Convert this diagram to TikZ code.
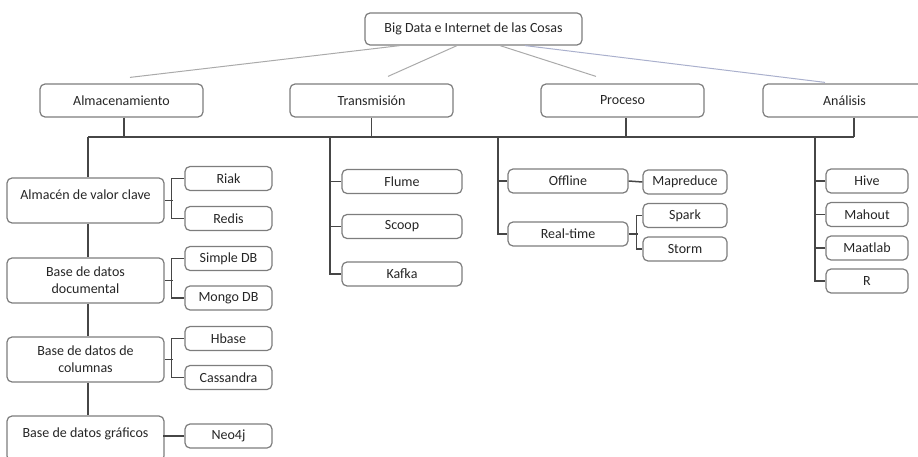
\documentclass[tikz,border=0pt]{standalone}
\usepackage{fontspec}
\setmainfont{Carlito}
\usetikzlibrary{positioning}
\definecolor{boxgray}{RGB}{125,125,125}
\definecolor{linegray}{RGB}{70,70,70}
\definecolor{feedgray}{RGB}{170,170,170}
\definecolor{feedblue}{RGB}{170,176,205}

\begin{document}
\begin{tikzpicture}[x=1pt, y=-1pt,
    every node/.style={
        rectangle, draw=boxgray, fill=white, line width=1.2pt,
        rounded corners=5pt, inner sep=0pt, align=center,
        text=black!85, font=\fontsize{14}{17}\selectfont
    },
    topic/.style={minimum width=217pt, minimum height=32pt},
    area/.style={minimum width=163pt, minimum height=33pt},
    store/.style={minimum width=157pt, minimum height=45pt},
    raised/.style={text height=10pt, text depth=12pt},
    leaf/.style={minimum width=#1, minimum height=24pt},
    bus/.style={draw=linegray, line width=1.5pt},
    feed/.style={draw=feedgray, line width=1pt}
]
\useasboundingbox (0,0) rectangle (918,457);
\clip (0,0) rectangle (918,457);

% root and the four areas
\node[topic] (bigdata) at (473.5,29) {Big Data e Internet de las Cosas};
\node[area] (almacen)  at (121.5,100.5) {Almacenamiento};
\node[area] (transm)   at (371.5,100.5) {Transmisión};
\node[area] (proceso)  at (622.5,100.5) {Proceso};
\node[area] (analisis) at (844.5,100.5) {Análisis};

% storage families
\node[store, raised] (clave) at (85.5,200.5) {Almacén de valor clave};
\node[store] (documental) at (85.5,280.5) {Base de datos\\documental};
\node[store] (columnas)   at (85.5,359.5) {Base de datos de\\columnas};
\node[store, raised] (graficos) at (85.5,438.5) {Base de datos gráficos};

\node[leaf=87pt] (riak)      at (228.5,178.5) {Riak};
\node[leaf=87pt] (redis)     at (228.5,218.5) {Redis};
\node[leaf=87pt] (simpledb)  at (228.5,258.5) {Simple DB};
\node[leaf=87pt] (mongodb)   at (228.5,298)   {Mongo DB};
\node[leaf=87pt] (hbase)     at (228.5,338.5) {Hbase};
\node[leaf=87pt] (cassandra) at (228.5,377.5) {Cassandra};
\node[leaf=87pt] (neo)       at (228.5,436)   {Neo4j};

% transmission tools
\node[leaf=120pt] (flume) at (402,181.5) {Flume};
\node[leaf=120pt] (scoop) at (402,226.5) {Scoop};
\node[leaf=120pt] (kafka) at (402,274)   {Kafka};

% processing modes
\node[leaf=120pt] (offline)  at (568,181) {Offline};
\node[leaf=120pt] (realtime) at (568,234) {Real-time};
\node[leaf=84pt] (mapreduce) at (685,182)   {Mapreduce};
\node[leaf=84pt] (spark)     at (685,215.5) {Spark};
\node[leaf=84pt] (storm)     at (685,249)   {Storm};

% analysis tools
\node[leaf=82pt] (hive)    at (867,181)   {Hive};
\node[leaf=82pt] (mahout)  at (867,214.5) {Mahout};
\node[leaf=82pt] (maatlab) at (867,248)   {Maatlab};
\node[leaf=82pt] (rlang)   at (867,281)   {R};

% thin lines under the root
\draw[feed] ([xshift=-73.5pt]bigdata.south) -- ([xshift=8.5pt,yshift=6pt]almacen.north);
\draw[feed] ([xshift=-16.5pt]bigdata.south) -- ([xshift=16.5pt,yshift=7pt]transm.north);
\draw[feed] ([xshift=26.5pt]bigdata.south) -- ([xshift=-26.5pt,yshift=7pt]proceso.north);
\draw[feed, draw=feedblue] ([xshift=51.5pt]bigdata.south) -- ([xshift=-19.5pt,yshift=1pt]analisis.north);

% main bus
\coordinate (dropA) at (88,137);
\coordinate (dropT) at (330,137);
\coordinate (dropP) at (498,137);
\coordinate (dropN) at (815,137);
\coordinate (busR)  at (854,137);
\draw[bus] (dropA) -- (busR);
\draw[bus] ([xshift=2.5pt]almacen.south) -- ([xshift=2.5pt]almacen.south |- dropA);
\draw[bus] (transm.south) -- (transm.south |- dropA);
\draw[bus] ([xshift=3.5pt]proceso.south) -- ([xshift=3.5pt]proceso.south |- dropA);
\draw[bus] ([xshift=9.5pt]analisis.south) -- (busR);

% storage column
\draw[bus] (dropA) -- (dropA |- clave.north);
\draw[bus] (clave.south -| dropA) -- (dropA |- documental.north);
\draw[bus] (documental.south -| dropA) -- (dropA |- columnas.north);
\draw[bus] (columnas.south -| dropA) -- (dropA |- graficos.north);

\draw[bus] (clave.east) -- ++(8,0);
\draw[bus] (riak.west) -- ++(-13,0) |- (redis.west);
\draw[bus] (documental.east) -- ++(8,0);
\draw[bus] (simpledb.west) -- ++(-13,0) |- (mongodb.west);
\draw[bus] (columnas.east) -- ++(8,0);
\draw[bus] (hbase.west) -- ++(-13,0) |- (cassandra.west);
\draw[bus] (neo.west) -- ++(-21,0);

% transmission column
\draw[bus] (dropT) |- (kafka.west);
\draw[bus] (flume.west) -- ++(-12,0);
\draw[bus] (scoop.west) -- ++(-12,0);

% processing column
\draw[bus] (dropP) |- (realtime.west);
\draw[bus] (offline.west) -- ++(-10,0);
\draw[bus] (offline.east) -- (mapreduce.west);
\draw[bus] (realtime.east) -- ++(9,0);
\draw[bus] (spark.west) -- ++(-6,0) |- (storm.west);

% analysis column
\draw[bus] (dropN) |- (rlang.west);
\draw[bus] (hive.west) -- ++(-11,0);
\draw[bus] (mahout.west) -- ++(-11,0);
\draw[bus] (maatlab.west) -- ++(-11,0);
\end{tikzpicture}
\end{document}
